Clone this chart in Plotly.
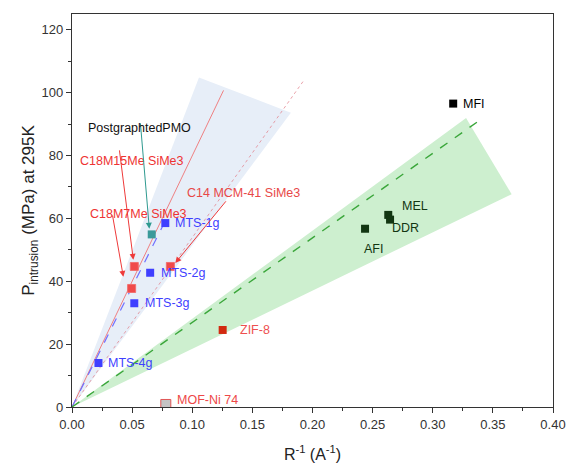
import plotly.graph_objects as go

# ---- measured intrusion pressures vs inverse pore radius ----
mts_names = ["MTS-1g", "MTS-2g", "MTS-3g", "MTS-4g"]
mts_x = [0.0776, 0.065, 0.0518, 0.022]
mts_y = [58.5, 42.7, 33.0, 14.0]

sime3_names = ["C18M15Me SiMe3", "C14 MCM-41 SiMe3", "C18M7Me SiMe3"]
sime3_x = [0.0518, 0.0818, 0.0496]
sime3_y = [44.7, 44.7, 37.7]

pmo_name = "PostgraphtedPMO"
pmo_x = [0.0663]
pmo_y = [54.9]

zeo_names = ["MFI", "MEL", "DDR", "AFI"]
zeo_x = [0.317, 0.263, 0.2645, 0.2437]
zeo_y = [96.5, 61.1, 59.6, 56.7]

zif_x = [0.1253]
zif_y = [24.5]
mof_x = [0.078]
mof_y = [0.8]

# ---- trend lines and confidence wedges ----
blue_wedge_x = [0.0, 0.1056, 0.182, 0.0]
blue_wedge_y = [0.0, 104.8, 93.6, 0.0]
green_wedge_x = [0.0, 0.3277, 0.3656, 0.0]
green_wedge_y = [0.0, 91.9, 67.7, 0.0]

red_fit_x = [0.0, 0.126]
red_fit_y = [0.0, 100.7]
red_dot_x = [0.0, 0.193]
red_dot_y = [0.0, 104.0]
blue_fit_x = [0.0, 0.076]
blue_fit_y = [0.0, 58.0]
green_fit_x = [0.0, 0.3387]
green_fit_y = [0.0, 91.1]

# arrow tails/heads for the mesoporous silica labels
arrow_tail_x = [0.0393, 0.129, 0.0335]
arrow_tail_y = [82.1, 65.9, 61.4]
arrow_head_x = [0.051, 0.0859, 0.0427]
arrow_head_y = [46.8, 45.8, 41.4]
pmo_tail = (0.0568, 90.7)
pmo_head = (0.0643, 56.7)

FONT = "Liberation Sans, Arial, sans-serif"
BLUE = "#3f3fff"
RED = "#ee4444"
DKGREEN = "#123612"

fig = go.Figure()

fig.add_trace(go.Scatter(x=blue_wedge_x, y=blue_wedge_y, fill="toself",
                         fillcolor="#e7eef8", line=dict(width=0), mode="lines",
                         hoverinfo="skip"))
fig.add_trace(go.Scatter(x=green_wedge_x, y=green_wedge_y, fill="toself",
                         fillcolor="#cdefcf", line=dict(width=0), mode="lines",
                         hoverinfo="skip"))
fig.add_trace(go.Scatter(x=red_dot_x, y=red_dot_y, mode="lines",
                         line=dict(color="rgba(225,130,140,0.75)", width=1, dash="dot")))
fig.add_trace(go.Scatter(x=red_fit_x, y=red_fit_y, mode="lines",
                         line=dict(color="rgba(240,100,100,0.8)", width=1)))
fig.add_trace(go.Scatter(x=blue_fit_x, y=blue_fit_y, mode="lines",
                         line=dict(color="#7070ff", width=1.2, dash="dash")))
fig.add_trace(go.Scatter(x=green_fit_x, y=green_fit_y, mode="lines",
                         line=dict(color="#3aa63a", width=1.4, dash="dash")))

sq = dict(symbol="square", size=8)
fig.add_trace(go.Scatter(x=mts_x, y=mts_y, mode="markers",
                         marker=dict(color=BLUE, line=dict(width=0), **sq)))
fig.add_trace(go.Scatter(x=sime3_x, y=sime3_y, mode="markers",
                         marker=dict(color="#f04a4a", line=dict(color="#f07070", width=1), **sq)))
fig.add_trace(go.Scatter(x=pmo_x, y=pmo_y, mode="markers",
                         marker=dict(color="#3a9a9a", line=dict(width=0), **sq)))
fig.add_trace(go.Scatter(x=zeo_x[:1], y=zeo_y[:1], mode="markers",
                         marker=dict(color="black", line=dict(width=0), **sq)))
fig.add_trace(go.Scatter(x=zeo_x[1:], y=zeo_y[1:], mode="markers",
                         marker=dict(color=DKGREEN, line=dict(width=0), **sq)))
fig.add_trace(go.Scatter(x=zif_x, y=zif_y, mode="markers",
                         marker=dict(color="#d22a10", line=dict(width=0), **sq)))
fig.add_trace(go.Scatter(x=mof_x, y=mof_y, mode="markers",
                         marker=dict(color="#c4c4c4", line=dict(color="#e05555", width=1),
                                     symbol="square", size=10)))

ann = []


def label(text, x, y, color, xshift=0, yshift=0, xanchor="left"):
    ann.append(dict(x=x, y=y, text=text, showarrow=False, xanchor=xanchor,
                    yanchor="middle", xshift=xshift, yshift=yshift,
                    font=dict(family=FONT, size=12.5, color=color)))


label(mts_names[0], mts_x[0], mts_y[0], BLUE, xshift=8)
label(mts_names[1], mts_x[1], mts_y[1], BLUE, xshift=9)
label(mts_names[2], mts_x[2], mts_y[2], BLUE, xshift=9)
label(mts_names[3], mts_x[3], mts_y[3], BLUE, xshift=8)

label(zeo_names[0], zeo_x[0], zeo_y[0], "black", xshift=8)
label(zeo_names[1], zeo_x[1], zeo_y[1], DKGREEN, xshift=12, yshift=9)
label(zeo_names[2], zeo_x[2], zeo_y[2], DKGREEN, xshift=0, yshift=-8)
label(zeo_names[3], zeo_x[3], zeo_y[3], DKGREEN, xshift=-3, yshift=-20)

label("ZIF-8", zif_x[0], zif_y[0], "#ee5050", xshift=15)
label("MOF-Ni 74", mof_x[0], mof_y[0], "#ee4848", xshift=9, yshift=4)

# labelled arrows pointing at the silylated silica points
for tx, ty, hx, hy in zip(arrow_tail_x, arrow_tail_y, arrow_head_x, arrow_head_y):
    ann.append(dict(x=hx, y=hy, ax=tx, ay=ty, axref="x", ayref="y", xref="x", yref="y",
                    text="", showarrow=True, arrowhead=2, arrowsize=1.2, arrowwidth=1,
                    arrowcolor="#ee3a3a"))

ann.append(dict(x=0.0497, y=78.4, text=sime3_names[0], showarrow=False,
                font=dict(family=FONT, size=12.5, color="#ee3333")))
ann.append(dict(x=0.1430, y=68.2, text=sime3_names[1], showarrow=False,
                font=dict(family=FONT, size=12.5, color="#e84848")))
ann.append(dict(x=0.0551, y=61.4, text=sime3_names[2], showarrow=False,
                font=dict(family=FONT, size=12.5, color="#ee3333")))

ann.append(dict(x=pmo_head[0], y=pmo_head[1], ax=pmo_tail[0], ay=pmo_tail[1],
                axref="x", ayref="y", text="", showarrow=True, arrowhead=2,
                arrowsize=1.2, arrowwidth=1, arrowcolor="#2f9a90"))
ann.append(dict(x=0.0560, y=88.9, text=pmo_name, showarrow=False,
                font=dict(family=FONT, size=12.5, color="#111111")))

axis_common = dict(showline=True, linecolor="#333333", linewidth=1.2, mirror=True,
                   ticks="outside", ticklen=5, tickcolor="#333333", tickwidth=1,
                   showgrid=False, zeroline=False, automargin=False,
                   tickfont=dict(family=FONT, size=13, color="#333333"))

fig.update_layout(
    width=568, height=463,
    margin=dict(l=72, r=15, t=14, b=56),
    plot_bgcolor="white", paper_bgcolor="white",
    showlegend=False,
    annotations=ann,
    xaxis=dict(range=[0, 0.4], dtick=0.05, tickformat=".2f",
               minor=dict(ticks="outside", dtick=0.025, ticklen=3, tickcolor="#333333"),
               title=dict(text="R<sup>-1</sup> (A<sup>-1</sup>)", standoff=20,
                          font=dict(family=FONT, size=16, color="#222222")),
               **axis_common),
    yaxis=dict(range=[0, 125], dtick=20,
               minor=dict(ticks="outside", dtick=10, ticklen=3, tickcolor="#333333"),
               title=dict(text="P<sub>intrusion</sub> (MPa) at 295K", standoff=2,
                          font=dict(family=FONT, size=17, color="#222222")),
               **axis_common),
)

fig.write_html("out.html")
